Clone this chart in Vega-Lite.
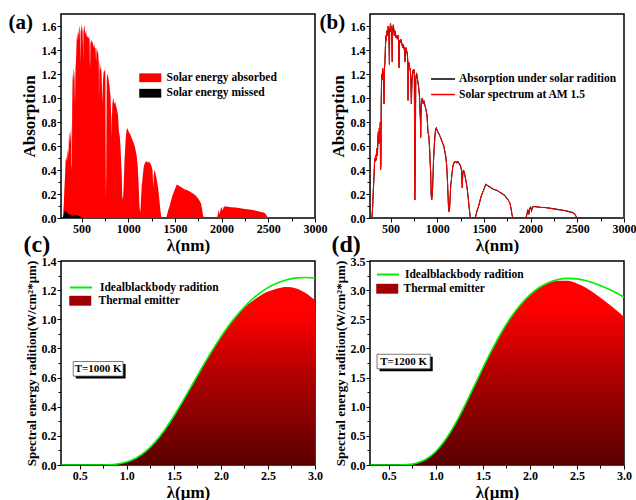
{
"$schema":"https://vega.github.io/schema/vega-lite/v6.json",
"background":"white",
"padding":{"left":7,"top":10,"right":0,"bottom":0},
"columns":2,
"spacing":{"row":43,"column":55},
"bounds":"flush",
"resolve":{"scale":{"color":"independent","fill":"independent","stroke":"independent"},"legend":{"color":"independent","fill":"independent","stroke":"independent"}},
"datasets":{
"sol":[{"w":280,"s":0},{"w":290,"s":0},{"w":295,"s":0.0005},{"w":300,"s":0.002},{"w":305,"s":0.05},{"w":310,"s":0.12},{"w":315,"s":0.22},{"w":320,"s":0.3},{"w":325,"s":0.38},{"w":330,"s":0.5},{"w":335,"s":0.47},{"w":340,"s":0.52},{"w":345,"s":0.48},{"w":350,"s":0.55},{"w":355,"s":0.58},{"w":360,"s":0.52},{"w":365,"s":0.68},{"w":370,"s":0.72},{"w":375,"s":0.62},{"w":380,"s":0.75},{"w":385,"s":0.63},{"w":390,"s":0.8},{"w":393,"s":0.4},{"w":397,"s":0.45},{"w":400,"s":0.95},{"w":405,"s":1.2},{"w":410,"s":1.15},{"w":415,"s":1.25},{"w":420,"s":1.22},{"w":425,"s":1.18},{"w":430,"s":0.95},{"w":435,"s":1.25},{"w":440,"s":1.3},{"w":445,"s":1.42},{"w":450,"s":1.52},{"w":455,"s":1.48},{"w":460,"s":1.56},{"w":465,"s":1.52},{"w":470,"s":1.55},{"w":475,"s":1.6},{"w":480,"s":1.58},{"w":485,"s":1.42},{"w":488,"s":1.28},{"w":490,"s":1.55},{"w":495,"s":1.58},{"w":500,"s":1.62},{"w":505,"s":1.55},{"w":510,"s":1.6},{"w":515,"s":1.45},{"w":518,"s":1.3},{"w":520,"s":1.55},{"w":525,"s":1.58},{"w":530,"s":1.61},{"w":535,"s":1.57},{"w":540,"s":1.52},{"w":545,"s":1.56},{"w":550,"s":1.55},{"w":555,"s":1.52},{"w":560,"s":1.5},{"w":565,"s":1.52},{"w":570,"s":1.5},{"w":575,"s":1.51},{"w":580,"s":1.49},{"w":585,"s":1.52},{"w":589,"s":1.3},{"w":592,"s":1.25},{"w":595,"s":1.45},{"w":600,"s":1.48},{"w":605,"s":1.46},{"w":610,"s":1.49},{"w":615,"s":1.47},{"w":620,"s":1.46},{"w":625,"s":1.44},{"w":630,"s":1.42},{"w":635,"s":1.45},{"w":640,"s":1.43},{"w":645,"s":1.41},{"w":650,"s":1.42},{"w":656,"s":1.3},{"w":660,"s":1.4},{"w":665,"s":1.42},{"w":670,"s":1.38},{"w":675,"s":1.39},{"w":680,"s":1.36},{"w":685,"s":1.3},{"w":687,"s":0.98},{"w":690,"s":1.2},{"w":695,"s":1.3},{"w":700,"s":1.27},{"w":705,"s":1.24},{"w":710,"s":1.25},{"w":715,"s":1.2},{"w":720,"s":1.05},{"w":723,"s":0.95},{"w":727,"s":1.08},{"w":730,"s":1.15},{"w":735,"s":1.2},{"w":740,"s":1.23},{"w":745,"s":1.22},{"w":750,"s":1.24},{"w":755,"s":1.2},{"w":758,"s":0.6},{"w":761,"s":0.15},{"w":764,"s":0.35},{"w":767,"s":0.8},{"w":770,"s":1.15},{"w":775,"s":1.19},{"w":780,"s":1.2},{"w":785,"s":1.18},{"w":790,"s":1.15},{"w":795,"s":1.12},{"w":800,"s":1.1},{"w":805,"s":1.05},{"w":810,"s":1.02},{"w":815,"s":0.9},{"w":820,"s":0.82},{"w":823,"s":0.67},{"w":826,"s":0.85},{"w":830,"s":0.95},{"w":835,"s":0.98},{"w":840,"s":1.0},{"w":845,"s":0.98},{"w":850,"s":0.95},{"w":855,"s":0.96},{"w":860,"s":0.97},{"w":865,"s":0.95},{"w":870,"s":0.93},{"w":875,"s":0.92},{"w":880,"s":0.9},{"w":885,"s":0.88},{"w":890,"s":0.86},{"w":895,"s":0.8},{"w":900,"s":0.72},{"w":905,"s":0.7},{"w":910,"s":0.68},{"w":915,"s":0.62},{"w":920,"s":0.55},{"w":925,"s":0.45},{"w":930,"s":0.38},{"w":935,"s":0.2},{"w":940,"s":0.15},{"w":945,"s":0.18},{"w":950,"s":0.25},{"w":955,"s":0.35},{"w":960,"s":0.48},{"w":965,"s":0.55},{"w":970,"s":0.62},{"w":975,"s":0.68},{"w":980,"s":0.72},{"w":985,"s":0.74},{"w":990,"s":0.75},{"w":995,"s":0.74},{"w":1000,"s":0.73},{"w":1010,"s":0.71},{"w":1020,"s":0.7},{"w":1030,"s":0.68},{"w":1040,"s":0.66},{"w":1050,"s":0.64},{"w":1060,"s":0.62},{"w":1070,"s":0.6},{"w":1080,"s":0.56},{"w":1090,"s":0.52},{"w":1100,"s":0.45},{"w":1105,"s":0.38},{"w":1110,"s":0.3},{"w":1115,"s":0.2},{"w":1120,"s":0.1},{"w":1125,"s":0.06},{"w":1130,"s":0.05},{"w":1135,"s":0.12},{"w":1140,"s":0.2},{"w":1145,"s":0.28},{"w":1150,"s":0.3},{"w":1155,"s":0.35},{"w":1160,"s":0.38},{"w":1165,"s":0.42},{"w":1170,"s":0.44},{"w":1180,"s":0.46},{"w":1190,"s":0.47},{"w":1200,"s":0.47},{"w":1210,"s":0.46},{"w":1220,"s":0.47},{"w":1230,"s":0.46},{"w":1240,"s":0.45},{"w":1250,"s":0.43},{"w":1260,"s":0.4},{"w":1265,"s":0.3},{"w":1268,"s":0.25},{"w":1272,"s":0.35},{"w":1280,"s":0.4},{"w":1290,"s":0.38},{"w":1300,"s":0.34},{"w":1310,"s":0.3},{"w":1320,"s":0.25},{"w":1330,"s":0.18},{"w":1340,"s":0.1},{"w":1350,"s":0.03},{"w":1355,"s":0},{"w":1400,"s":0},{"w":1410,"s":0.01},{"w":1420,"s":0.04},{"w":1430,"s":0.07},{"w":1440,"s":0.09},{"w":1450,"s":0.12},{"w":1460,"s":0.15},{"w":1470,"s":0.18},{"w":1480,"s":0.2},{"w":1490,"s":0.22},{"w":1500,"s":0.24},{"w":1510,"s":0.26},{"w":1520,"s":0.28},{"w":1530,"s":0.275},{"w":1540,"s":0.27},{"w":1550,"s":0.265},{"w":1560,"s":0.26},{"w":1570,"s":0.255},{"w":1580,"s":0.25},{"w":1590,"s":0.245},{"w":1600,"s":0.24},{"w":1620,"s":0.235},{"w":1640,"s":0.23},{"w":1660,"s":0.22},{"w":1680,"s":0.21},{"w":1700,"s":0.2},{"w":1720,"s":0.19},{"w":1740,"s":0.17},{"w":1760,"s":0.15},{"w":1780,"s":0.12},{"w":1790,"s":0.08},{"w":1800,"s":0.03},{"w":1810,"s":0},{"w":1950,"s":0},{"w":1960,"s":0.03},{"w":1970,"s":0.07},{"w":1980,"s":0.03},{"w":1990,"s":0.08},{"w":2000,"s":0.09},{"w":2010,"s":0.06},{"w":2020,"s":0.09},{"w":2030,"s":0.095},{"w":2050,"s":0.095},{"w":2100,"s":0.09},{"w":2150,"s":0.088},{"w":2200,"s":0.082},{"w":2250,"s":0.076},{"w":2300,"s":0.07},{"w":2350,"s":0.064},{"w":2400,"s":0.055},{"w":2450,"s":0.045},{"w":2470,"s":0.035},{"w":2490,"s":0.01},{"w":2500,"s":0},{"w":2900,"s":0},{"w":2950,"s":0.003},{"w":3000,"s":0.004}],
"mis":[{"w":300,"m":0},{"w":310,"m":0.03},{"w":320,"m":0.055},{"w":330,"m":0.065},{"w":340,"m":0.055},{"w":350,"m":0.04},{"w":360,"m":0.035},{"w":370,"m":0.03},{"w":380,"m":0.025},{"w":390,"m":0.02},{"w":400,"m":0.018},{"w":420,"m":0.02},{"w":440,"m":0.026},{"w":450,"m":0.022},{"w":460,"m":0.02},{"w":480,"m":0.012},{"w":500,"m":0.005},{"w":520,"m":0}],
"bb1":[{"l":0.3,"bb":0,"te":0},{"l":0.4,"bb":0,"te":0},{"l":0.5,"bb":0,"te":0},{"l":0.6,"bb":0,"te":0},{"l":0.7,"bb":0.0003,"te":0.0003},{"l":0.8,"bb":0.0018,"te":0.0018},{"l":0.9,"bb":0.0072,"te":0.0072},{"l":1.0,"bb":0.021,"te":0.021},{"l":1.1,"bb":0.048,"te":0.048},{"l":1.2,"bb":0.093,"te":0.093},{"l":1.3,"bb":0.157,"te":0.157},{"l":1.4,"bb":0.239,"te":0.239},{"l":1.5,"bb":0.336,"te":0.336},{"l":1.6,"bb":0.444,"te":0.444},{"l":1.7,"bb":0.556,"te":0.556},{"l":1.8,"bb":0.669,"te":0.669},{"l":1.9,"bb":0.778,"te":0.778},{"l":2.0,"bb":0.879,"te":0.879},{"l":2.1,"bb":0.971,"te":0.97},{"l":2.2,"bb":1.05,"te":1.046},{"l":2.3,"bb":1.118,"te":1.108},{"l":2.4,"bb":1.173,"te":1.155},{"l":2.5,"bb":1.217,"te":1.19},{"l":2.6,"bb":1.249,"te":1.212},{"l":2.7,"bb":1.271,"te":1.222},{"l":2.8,"bb":1.284,"te":1.212},{"l":2.9,"bb":1.287,"te":1.18},{"l":3.0,"bb":1.283,"te":1.13}],
"bb2":[{"l":0.3,"bb":0,"te":0},{"l":0.4,"bb":0,"te":0},{"l":0.5,"bb":0.0001,"te":0.0001},{"l":0.6,"bb":0.001,"te":0.001},{"l":0.7,"bb":0.0081,"te":0.0081},{"l":0.8,"bb":0.0354,"te":0.0354},{"l":0.9,"bb":0.1035,"te":0.1035},{"l":1.0,"bb":0.2324,"te":0.2324},{"l":1.1,"bb":0.4287,"te":0.4287},{"l":1.2,"bb":0.688,"te":0.688},{"l":1.3,"bb":0.9945,"te":0.9945},{"l":1.4,"bb":1.3277,"te":1.3277},{"l":1.5,"bb":1.6652,"te":1.6652},{"l":1.6,"bb":1.988,"te":1.988},{"l":1.7,"bb":2.2817,"te":2.2817},{"l":1.8,"bb":2.5385,"te":2.5385},{"l":1.9,"bb":2.75,"te":2.75},{"l":2.0,"bb":2.9196,"te":2.918},{"l":2.1,"bb":3.0458,"te":3.04},{"l":2.2,"bb":3.1323,"te":3.12},{"l":2.3,"bb":3.1838,"te":3.162},{"l":2.4,"bb":3.2011,"te":3.16},{"l":2.5,"bb":3.193,"te":3.115},{"l":2.6,"bb":3.162,"te":3.035},{"l":2.7,"bb":3.1107,"te":2.93},{"l":2.8,"bb":3.045,"te":2.81},{"l":2.9,"bb":2.968,"te":2.68},{"l":3.0,"bb":2.8826,"te":2.54}],
"t1":[{"x1":0.43,"x2":0.96,"y1":0.61,"y2":0.71,"xc":0.695,"yc":0.66,"label":"T=1000 K"}],
"t2":[{"x1":0.375,"x2":0.94,"y1":1.65,"y2":1.9,"xc":0.6575,"yc":1.775,"label":"T=1200 K"}]
},
"concat":[
{"width":254,"height":204,
 "resolve":{"axis":{"x":"independent","y":"independent"}},
 "layer":[
  {"data":{"name":"sol"},"mark":{"type":"area","clip":true},
   "encoding":{
    "x":{"field":"w","type":"quantitative","scale":{"domain":[280,3000],"nice":false,"zero":false},"axis":{"values":[500,1000,1500,2000,2500,3000],"format":"d","title":"λ(nm)"}},
    "y":{"field":"s","type":"quantitative","scale":{"domain":[0,1.7],"nice":false},"axis":{"values":[0,0.2,0.4,0.6,0.8,1,1.2,1.4,1.6],"format":".1f","title":"Absorption","titlePadding":3}},
    "color":{"datum":"Solar energy absorbed","scale":{"domain":["Solar energy absorbed","Solar energy missed"],"range":["#ff0000","#000000"]},
      "legend":{"orient":"none","legendX":83.5,"legendY":58,"title":null,"symbolType":"M-2,-0.8L2,-0.8L2,0.8L-2,0.8Z","symbolSize":121,"symbolStrokeWidth":0,"labelOffset":10.5,"padding":0,"rowPadding":2.5}}
   }},
  {"data":{"name":"mis"},"mark":{"type":"area","clip":true},
   "encoding":{
    "x":{"field":"w","type":"quantitative","axis":{"orient":"bottom","values":[750,1250,1750,2250,2750],"labels":false,"tickSize":3,"title":"(a)","titleX":-53,"titleY":-190,"titleAngle":0,"titleAlign":"left","titleBaseline":"alphabetic","titleFontSize":21}},
    "y":{"field":"m","type":"quantitative","axis":{"orient":"left","values":[0.1,0.3,0.5,0.7,0.9,1.1,1.3,1.5],"labels":false,"title":null,"tickSize":3}},
    "color":{"datum":"Solar energy missed"}
   }}
 ]},
{"width":254,"height":204,
 "resolve":{"axis":{"x":"independent","y":"independent"}},
 "layer":[
  {"data":{"name":"sol"},"mark":{"type":"line","strokeWidth":1.1,"clip":true},
   "encoding":{
    "x":{"field":"w","type":"quantitative","scale":{"domain":[280,3000],"nice":false,"zero":false},"axis":{"values":[500,1000,1500,2000,2500,3000],"format":"d","title":"λ(nm)"}},
    "y":{"field":"s","type":"quantitative","scale":{"domain":[0,1.7],"nice":false},"axis":{"values":[0,0.2,0.4,0.6,0.8,1,1.2,1.4,1.6],"format":".1f","title":"Absorption","titlePadding":3}},
    "color":{"datum":"Absorption under solar radition","scale":{"domain":["Absorption under solar radition","Solar spectrum at AM 1.5"],"range":["#000000","#ff0000"]},
      "legend":{"orient":"none","legendX":66,"legendY":58,"title":null,"symbolType":"M-2,0L2,0","symbolSize":144,"symbolStrokeWidth":1.5,"labelOffset":9,"padding":0,"rowPadding":2.5}}
   }},
  {"data":{"name":"sol"},"mark":{"type":"line","strokeWidth":1,"clip":true},
   "encoding":{
    "x":{"field":"w","type":"quantitative","axis":{"orient":"bottom","values":[750,1250,1750,2250,2750],"labels":false,"tickSize":3,"title":"(b)","titleX":-51,"titleY":-190,"titleAngle":0,"titleAlign":"left","titleBaseline":"alphabetic","titleFontSize":21}},
    "y":{"field":"s","type":"quantitative","axis":{"orient":"left","values":[0.1,0.3,0.5,0.7,0.9,1.1,1.3,1.5],"labels":false,"title":null,"tickSize":3}},
    "color":{"datum":"Solar spectrum at AM 1.5"}
   }}
 ]},
{"width":254,"height":204,
 "resolve":{"axis":{"x":"independent","y":"independent"}},
 "layer":[
  {"data":{"name":"bb1"},"mark":{"type":"area","interpolate":"monotone","fillOpacity":0,"clip":true},
   "encoding":{
    "x":{"field":"l","type":"quantitative","scale":{"domain":[0.3,3.0],"nice":false,"zero":false},"axis":{"values":[0.5,1,1.5,2,2.5,3],"format":".1f","title":"λ(μm)"}},
    "y":{"field":"te","type":"quantitative","scale":{"domain":[0,1.4],"nice":false},"axis":{"values":[0,0.2,0.4,0.6,0.8,1,1.2,1.4],"format":".1f","title":"Spectral energy radition(W/cm²*μm)","titleFontSize":13,"titlePadding":3}},
    "fill":{"datum":"Thermal emitter","scale":{"domain":["Thermal emitter"],"range":["#a00000"]},
      "legend":{"orient":"none","legendX":13.5,"legendY":34,"title":null,"symbolType":"M-2,-0.9L2,-0.9L2,0.9L-2,0.9Z","symbolSize":121,"symbolStrokeWidth":0,"symbolOpacity":1,"labelOffset":12.5,"padding":0,
        "encode":{"symbols":{"update":{"fill":{"value":{"gradient":"linear","x1":0,"y1":0,"x2":1,"y2":0,"stops":[{"offset":0,"color":"#7a0000"},{"offset":0.5,"color":"#c80000"},{"offset":1,"color":"#7a0000"}]}},"fillOpacity":{"value":1},"opacity":{"value":1}}}}}}
   }},
  {"data":{"name":"bb1"},"mark":{"type":"area","interpolate":"monotone","clip":true,"fill":{"gradient":"linear","x1":0,"y1":1,"x2":0,"y2":0,"stops":[{"offset":0,"color":"#5a0000"},{"offset":0.5,"color":"#b00000"},{"offset":0.85,"color":"#ff0000"},{"offset":1,"color":"#ff0000"}]}},
   "encoding":{
    "x":{"field":"l","type":"quantitative","axis":null},
    "y":{"field":"te","type":"quantitative","axis":null}
   }},
  {"data":{"name":"bb1"},"mark":{"type":"line","interpolate":"monotone","strokeWidth":1.6,"clip":true},
   "encoding":{
    "x":{"field":"l","type":"quantitative","axis":{"orient":"bottom","values":[0.75,1.25,1.75,2.25,2.75],"labels":false,"tickSize":3,"title":"(c)","titleX":-38,"titleY":-214,"titleAngle":0,"titleAlign":"left","titleBaseline":"alphabetic","titleFontSize":24}},
    "y":{"field":"bb","type":"quantitative","axis":{"orient":"left","values":[0.1,0.3,0.5,0.7,0.9,1.1,1.3],"labels":false,"title":null,"tickSize":3}},
    "stroke":{"datum":"Idealblackbody radition","scale":{"domain":["Idealblackbody radition"],"range":["#00ee00"]},
      "legend":{"orient":"none","legendX":13.5,"legendY":20,"title":null,"symbolType":"M-2,0L2,0","symbolSize":121,"symbolStrokeWidth":2,"labelOffset":12.5,"padding":0}}
   }},
  {"data":{"name":"t1"},"mark":{"type":"rect","fill":"black","xOffset":2.5,"x2Offset":2.5,"yOffset":2.5,"y2Offset":2.5},
   "encoding":{"x":{"field":"x1","type":"quantitative","axis":null},"x2":{"field":"x2"},"y":{"field":"y1","type":"quantitative","axis":null},"y2":{"field":"y2"}}},
  {"data":{"name":"t1"},"mark":{"type":"rect","fill":"white","stroke":"#555555","strokeWidth":0.8},
   "encoding":{"x":{"field":"x1","type":"quantitative","axis":null},"x2":{"field":"x2"},"y":{"field":"y1","type":"quantitative","axis":null},"y2":{"field":"y2"}}},
  {"data":{"name":"t1"},"mark":{"type":"text","font":"Liberation Serif","fontWeight":"bold","fontSize":11,"color":"black","align":"center","baseline":"middle"},
   "encoding":{"x":{"field":"xc","type":"quantitative","axis":null},"y":{"field":"yc","type":"quantitative","axis":null},"text":{"field":"label"}}}
 ]},
{"width":254,"height":204,
 "resolve":{"axis":{"x":"independent","y":"independent"}},
 "layer":[
  {"data":{"name":"bb2"},"mark":{"type":"area","interpolate":"monotone","fillOpacity":0,"clip":true},
   "encoding":{
    "x":{"field":"l","type":"quantitative","scale":{"domain":[0.3,3.0],"nice":false,"zero":false},"axis":{"values":[0.5,1,1.5,2,2.5,3],"format":".1f","title":"λ(μm)"}},
    "y":{"field":"te","type":"quantitative","scale":{"domain":[0,3.5],"nice":false},"axis":{"values":[0,0.5,1,1.5,2,2.5,3,3.5],"format":".1f","title":"Spectral energy radition(W/cm²*μm)","titleFontSize":13,"titlePadding":3}},
    "fill":{"datum":"Thermal emitter","scale":{"domain":["Thermal emitter"],"range":["#a00000"]},
      "legend":{"orient":"none","legendX":11.5,"legendY":22,"title":null,"symbolType":"M-2,-0.9L2,-0.9L2,0.9L-2,0.9Z","symbolSize":121,"symbolStrokeWidth":0,"symbolOpacity":1,"labelOffset":10.5,"padding":0,
        "encode":{"symbols":{"update":{"fill":{"value":{"gradient":"linear","x1":0,"y1":0,"x2":1,"y2":0,"stops":[{"offset":0,"color":"#7a0000"},{"offset":0.5,"color":"#c80000"},{"offset":1,"color":"#7a0000"}]}},"fillOpacity":{"value":1},"opacity":{"value":1}}}}}}
   }},
  {"data":{"name":"bb2"},"mark":{"type":"area","interpolate":"monotone","clip":true,"fill":{"gradient":"linear","x1":0,"y1":1,"x2":0,"y2":0,"stops":[{"offset":0,"color":"#5a0000"},{"offset":0.5,"color":"#b00000"},{"offset":0.85,"color":"#ff0000"},{"offset":1,"color":"#ff0000"}]}},
   "encoding":{
    "x":{"field":"l","type":"quantitative","axis":null},
    "y":{"field":"te","type":"quantitative","axis":null}
   }},
  {"data":{"name":"bb2"},"mark":{"type":"line","interpolate":"monotone","strokeWidth":1.6,"clip":true},
   "encoding":{
    "x":{"field":"l","type":"quantitative","axis":{"orient":"bottom","values":[0.75,1.25,1.75,2.25,2.75],"labels":false,"tickSize":3,"title":"(d)","titleX":-39,"titleY":-214,"titleAngle":0,"titleAlign":"left","titleBaseline":"alphabetic","titleFontSize":24}},
    "y":{"field":"bb","type":"quantitative","axis":{"orient":"left","values":[0.25,0.75,1.25,1.75,2.25,2.75,3.25],"labels":false,"title":null,"tickSize":3}},
    "stroke":{"datum":"Idealblackbody radition","scale":{"domain":["Idealblackbody radition"],"range":["#00ee00"]},
      "legend":{"orient":"none","legendX":11.5,"legendY":7,"title":null,"symbolType":"M-2,0L2,0","symbolSize":121,"symbolStrokeWidth":2,"labelOffset":10.5,"padding":0}}
   }},
  {"data":{"name":"t2"},"mark":{"type":"rect","fill":"black","xOffset":2.5,"x2Offset":2.5,"yOffset":2.5,"y2Offset":2.5},
   "encoding":{"x":{"field":"x1","type":"quantitative","axis":null},"x2":{"field":"x2"},"y":{"field":"y1","type":"quantitative","axis":null},"y2":{"field":"y2"}}},
  {"data":{"name":"t2"},"mark":{"type":"rect","fill":"white","stroke":"#555555","strokeWidth":0.8},
   "encoding":{"x":{"field":"x1","type":"quantitative","axis":null},"x2":{"field":"x2"},"y":{"field":"y1","type":"quantitative","axis":null},"y2":{"field":"y2"}}},
  {"data":{"name":"t2"},"mark":{"type":"text","font":"Liberation Serif","fontWeight":"bold","fontSize":11,"color":"black","align":"center","baseline":"middle"},
   "encoding":{"x":{"field":"xc","type":"quantitative","axis":null},"y":{"field":"yc","type":"quantitative","axis":null},"text":{"field":"label"}}}
 ]}
],
"config":{
 "font":"Liberation Serif",
 "view":{"stroke":"black","strokeWidth":1.5},
 "axis":{"labelFont":"Liberation Serif","labelFontWeight":"bold","labelFontSize":12,"labelColor":"black","labelFlush":false,"labelOverlap":false,"labelPadding":1,
   "titleFont":"Liberation Serif","titleFontWeight":"bold","titleFontSize":17,"titleColor":"black","titlePadding":3,
   "domain":false,"grid":false,"tickColor":"black","tickSize":4,"tickWidth":1},
 "legend":{"labelFont":"Liberation Serif","labelFontWeight":"bold","labelFontSize":11.5,"labelColor":"black","labelLimit":400}
}
}
